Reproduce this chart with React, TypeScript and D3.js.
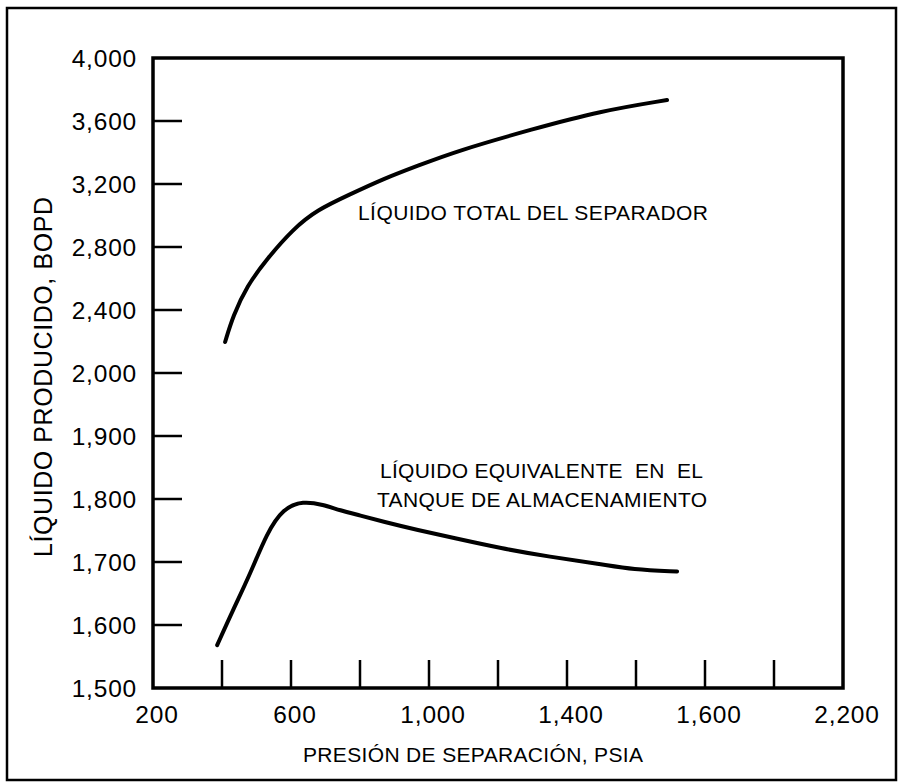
import React from 'react';
import * as d3 from 'd3';

// y axis is not linear: each step is one gridline, but values jump (100 below 2,000, 400 above)
const yTickValues = [1500, 1600, 1700, 1800, 1900, 2000, 2400, 2800, 3200, 3600, 4000];
const yTickLabels = ['1,500', '1,600', '1,700', '1,800', '1,900', '2,000', '2,400', '2,800', '3,200', '3,600', '4,000'];

// x ticks every 200 psia, only every second one labelled (labels as printed)
const xTickValues = [400, 600, 800, 1000, 1200, 1400, 1600, 1800, 2000];
const xLabelValues = [200, 600, 1000, 1400, 1800, 2200];
const xLabels = ['200', '600', '1,000', '1,400', '1,600', '2,200'];

// Líquido total del separador
const totalX = [409, 432, 472, 530, 606, 675, 771, 867, 965, 1081, 1301, 1496, 1690];
const totalY = [2197, 2362, 2552, 2724, 2914, 3035, 3134, 3232, 3314, 3410, 3549, 3663, 3733];

// Líquido equivalente en el tanque de almacenamiento
const tankX = [386, 432, 481, 530, 577, 635, 693, 742, 800, 867, 965, 1081, 1206, 1351, 1496, 1591, 1719];
const tankY = [1568, 1624, 1680, 1746, 1785, 1797, 1791, 1782, 1774, 1764, 1751, 1737, 1722, 1708, 1697, 1688, 1685];

const W = 899, H = 784;
const margin = { top: 58, right: 56, bottom: 96, left: 153 };
const FONT = '"Liberation Sans", Arial, sans-serif';

export default function App() {
  const width = W - margin.left - margin.right;
  const height = H - margin.top - margin.bottom;

  const x = d3.scaleLinear().domain([200, 2200]).range([0, width]);
  const y = d3.scaleLinear()
    .domain(yTickValues)
    .range(yTickValues.map((_, i) => height - (i * height) / (yTickValues.length - 1)));

  const line = d3.line<[number, number]>()
    .x(d => x(d[0]))
    .y(d => y(d[1]))
    .curve(d3.curveBasis);

  const totalPath = line(totalX.map((v, i) => [v, totalY[i]] as [number, number])) || '';
  const tankPath = line(tankX.map((v, i) => [v, tankY[i]] as [number, number])) || '';

  return (
    <svg width={W} height={H} style={{ position: 'absolute', left: 0, top: 0, background: '#fff' }}
      fontFamily={FONT}>
      {/* outer frame */}
      <rect x={7} y={8} width={889} height={772} fill="none" stroke="#000" strokeWidth={2.5} />
      <g transform={`translate(${margin.left},${margin.top})`}>
        {/* y ticks */}
        {yTickValues.slice(1, -1).map(v => (
          <line key={'yt' + v} x1={0} x2={29} y1={y(v)} y2={y(v)} stroke="#000" strokeWidth={2.5} />
        ))}
        {yTickValues.map((v, i) => (
          <text key={'yl' + v} x={-16} y={y(v)} dy="0.36em" textAnchor="end"
            fontSize={24.5} letterSpacing={0.8}>{yTickLabels[i]}</text>
        ))}
        {/* x ticks */}
        {xTickValues.map(v => (
          <line key={'xt' + v} x1={x(v)} x2={x(v)} y1={height} y2={height - 28} stroke="#000" strokeWidth={2.5} />
        ))}
        {xLabelValues.map((v, i) => (
          <text key={'xl' + v} x={x(v) + 4} y={height + 35} textAnchor="middle"
            fontSize={24.5} letterSpacing={0.8}>{xLabels[i]}</text>
        ))}
        {/* plot box */}
        <rect x={0} y={0} width={width} height={height} fill="none" stroke="#000" strokeWidth={3.5} />

        <path d={totalPath} fill="none" stroke="#000" strokeWidth={4} strokeLinecap="round" />
        <path d={tankPath} fill="none" stroke="#000" strokeWidth={4} strokeLinecap="round" />

        <text x={205} y={162} fontSize={21} textLength={350}>LÍQUIDO TOTAL DEL SEPARADOR</text>
        <text x={227} y={420} fontSize={21} textLength={323} xmlSpace="preserve">LÍQUIDO EQUIVALENTE  EN  EL</text>
        <text x={224} y={449} fontSize={21} textLength={330}>TANQUE DE ALMACENAMIENTO</text>
      </g>
      <text transform={`translate(52,377) rotate(-90)`} textAnchor="middle" fontSize={25} textLength={360}>
        LÍQUIDO PRODUCIDO, BOPD
      </text>
      <text x={473} y={762} textAnchor="middle" fontSize={21} textLength={340}>PRESIÓN DE SEPARACIÓN, PSIA</text>
    </svg>
  );
}
